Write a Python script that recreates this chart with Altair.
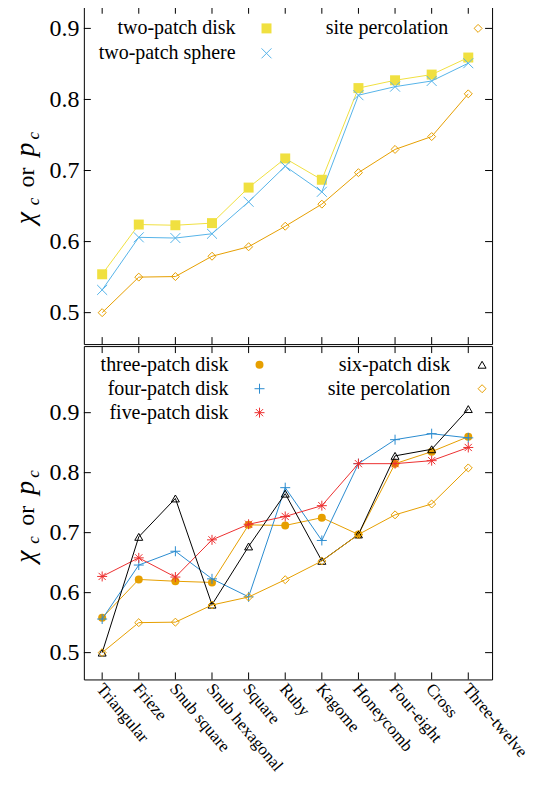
import json
import altair as alt
import pandas as pd

# ---------------- data ----------------
categories = ["Triangular", "Frieze", "Snub square", "Snub hexagonal", "Square",
              "Ruby", "Kagome", "Honeycomb", "Four-eight", "Cross", "Three-twelve"]

site_percolation = [0.5000, 0.5500, 0.5508, 0.5794, 0.5927, 0.6216, 0.6527, 0.6970, 0.7297, 0.7478, 0.8079]
two_patch_disk = [0.554, 0.624, 0.623, 0.626, 0.676, 0.717, 0.687, 0.816, 0.827, 0.835, 0.859]
two_patch_sphere = [0.532, 0.606, 0.605, 0.611, 0.656, 0.706, 0.670, 0.806, 0.818, 0.826, 0.851]
three_patch_disk = [0.558, 0.622, 0.619, 0.617, 0.713, 0.712, 0.725, 0.697, 0.815, 0.835, 0.860]
four_patch_disk = [0.556, 0.646, 0.669, 0.623, 0.593, 0.775, 0.687, 0.815, 0.855, 0.865, 0.858]
five_patch_disk = [0.627, 0.658, 0.626, 0.688, 0.714, 0.727, 0.745, 0.815, 0.815, 0.820, 0.842]
six_patch_disk = [0.500, 0.693, 0.757, 0.580, 0.677, 0.765, 0.653, 0.697, 0.828, 0.839, 0.906]

y_ticks = [0.5, 0.6, 0.7, 0.8, 0.9]

# ---------------- style ----------------
FONT = "Liberation Serif, Times New Roman, Times, DejaVu Serif, serif"
W = 409
H_TOP = 338
H_BOT = 334
TICK = 7

YELLOW = "#f0e040"
SKY = "#56b4e9"
ORANGE = "#e69f00"
BLUE = "#2a8cd0"
RED = "#ec3030"
BLACK = "#000000"

X_SHAPE = "M-1,-1L1,1M-1,1L1,-1"
PLUS = "M-1,0L1,0M0,-1L0,1"
STAR = "M-1,0L1,0M0,-1L0,1M-0.72,-0.72L0.72,0.72M-0.72,0.72L0.72,-0.72"

xscale = alt.Scale(domain=[-0.5, 10.65], nice=False, zero=False)

YAXIS = alt.Axis(values=y_ticks, ticks=False, domain=False, grid=False, format=".1f",
                 labelFont=FONT, labelFontSize=24, labelColor="black", labelPadding=5, title=None)
XAXIS = alt.Axis(values=list(range(len(categories))), ticks=False, domain=False, grid=False,
                 labelExpr=json.dumps(categories) + "[datum.value]",
                 labelFont=FONT, labelFontSize=17, labelColor="black", labelAngle=50,
                 labelAlign="left", labelBaseline="middle", labelPadding=6, labelOffset=-3,
                 title=None, labelOverlap=False, labelBound=False, labelFlush=False)
XNONE = alt.Axis(values=list(range(len(categories))), ticks=False, domain=False, grid=False,
                 labels=False, title=None)


def series(vals, color, shape, size, filled, ys, xaxis):
    df = pd.DataFrame({"idx": list(range(len(categories))), "category": categories, "value": vals})
    enc = dict(x=alt.X("idx:Q", scale=xscale, axis=xaxis),
               y=alt.Y("value:Q", scale=ys, axis=YAXIS))
    line = alt.Chart(df).mark_line(color=color, strokeWidth=1).encode(**enc)
    pts = alt.Chart(df).mark_point(shape=shape, size=size, filled=filled, color=color,
                                   strokeWidth=1, opacity=1).encode(**enc)
    return [line, pts]


def frame_ticks(ys, h, xaxis):
    ydf = pd.DataFrame({"t": y_ticks})
    xdf = pd.DataFrame({"i": list(range(len(categories)))})
    left = alt.Chart(ydf).mark_rule(color="black", strokeWidth=1).encode(
        y=alt.Y("t:Q", scale=ys, axis=YAXIS), x=alt.value(0), x2=alt.value(TICK))
    right = alt.Chart(ydf).mark_rule(color="black", strokeWidth=1).encode(
        y=alt.Y("t:Q", scale=ys, axis=YAXIS), x=alt.value(W - TICK), x2=alt.value(W))
    bottom = alt.Chart(xdf).mark_rule(color="black", strokeWidth=1).encode(
        x=alt.X("i:Q", scale=xscale, axis=xaxis), y=alt.value(h - TICK), y2=alt.value(h))
    top = alt.Chart(xdf).mark_rule(color="black", strokeWidth=1).encode(
        x=alt.X("i:Q", scale=xscale, axis=xaxis), y=alt.value(0), y2=alt.value(TICK))
    return [left, right, bottom, top]


def legend_entry(label, tx, sx, y, color, shape, size, filled):
    t = alt.Chart(pd.DataFrame({"label": [label]})).mark_text(
        align="right", baseline="middle", font=FONT, fontSize=20, color="black").encode(
        x=alt.value(tx), y=alt.value(y), text="label:N")
    s = alt.Chart(pd.DataFrame({"k": [0]})).mark_point(
        shape=shape, size=size, filled=filled, color=color, strokeWidth=1, opacity=1).encode(
        x=alt.value(sx), y=alt.value(y))
    return [t, s]


def ytitle(y0):
    pieces = [("χ", 28, "italic", 0, 0), ("c", 17, "italic", 5, 19),
              ("or", 24, "normal", 0, 37), ("p", 28, "italic", 0, 68), ("c", 17, "italic", 5, 85)]
    out = []
    for txt, fs, style, dx, dy in pieces:
        out.append(alt.Chart(pd.DataFrame({"s": [txt]})).mark_text(
            align="left", baseline="alphabetic", angle=270, font=FONT, fontSize=fs,
            fontStyle=style, color="black").encode(
            x=alt.value(-50 + dx), y=alt.value(y0 - dy), text="s:N"))
    return out


ys_top = alt.Scale(domain=[0.45576, 0.93048], nice=False, zero=False)
ys_bot = alt.Scale(domain=[0.4553, 1.011], nice=False, zero=False)

top_layers = (frame_ticks(ys_top, H_TOP, XNONE)
              + series(two_patch_disk, YELLOW, "square", 100, True, ys_top, XNONE)
              + series(two_patch_sphere, SKY, X_SHAPE, 100, False, ys_top, XNONE)
              + series(site_percolation, ORANGE, "diamond", 64, False, ys_top, XNONE)
              + legend_entry("two-patch disk", 152, 183, 21.7, YELLOW, "square", 100, True)
              + legend_entry("two-patch sphere", 152, 183, 46.7, SKY, X_SHAPE, 100, False)
              + legend_entry("site percolation", 365, 395, 21.7, ORANGE, "diamond", 64, False)
              + ytitle(218))

bot_layers = (frame_ticks(ys_bot, H_BOT, XAXIS)
              + series(three_patch_disk, ORANGE, "circle", 64, True, ys_bot, XAXIS)
              + series(four_patch_disk, BLUE, PLUS, 100, False, ys_bot, XAXIS)
              + series(five_patch_disk, RED, STAR, 100, False, ys_bot, XAXIS)
              + series(six_patch_disk, BLACK, "triangle-up", 64, False, ys_bot, XAXIS)
              + series(site_percolation, ORANGE, "diamond", 64, False, ys_bot, XAXIS)
              + legend_entry("three-patch disk", 145, 176, 18.7, ORANGE, "circle", 64, True)
              + legend_entry("four-patch disk", 145, 176, 42.7, BLUE, PLUS, 100, False)
              + legend_entry("five-patch disk", 145, 176, 66.7, RED, STAR, 100, False)
              + legend_entry("six-patch disk", 367, 399, 18.7, BLACK, "triangle-up", 64, False)
              + legend_entry("site percolation", 367, 399, 42.7, ORANGE, "diamond", 64, False)
              + ytitle(217))

top = alt.layer(*top_layers).properties(width=W, height=H_TOP)
bot = alt.layer(*bot_layers).properties(width=W, height=H_BOT)

chart = (alt.vconcat(top, bot, spacing=0)
         .properties(padding={"left": 3, "top": -3, "right": 0, "bottom": 0})
         .configure_view(stroke="black", strokeWidth=1)
         .configure_axis(grid=False))

chart.save("out.html", embed_options={"renderer": "svg", "actions": False})
